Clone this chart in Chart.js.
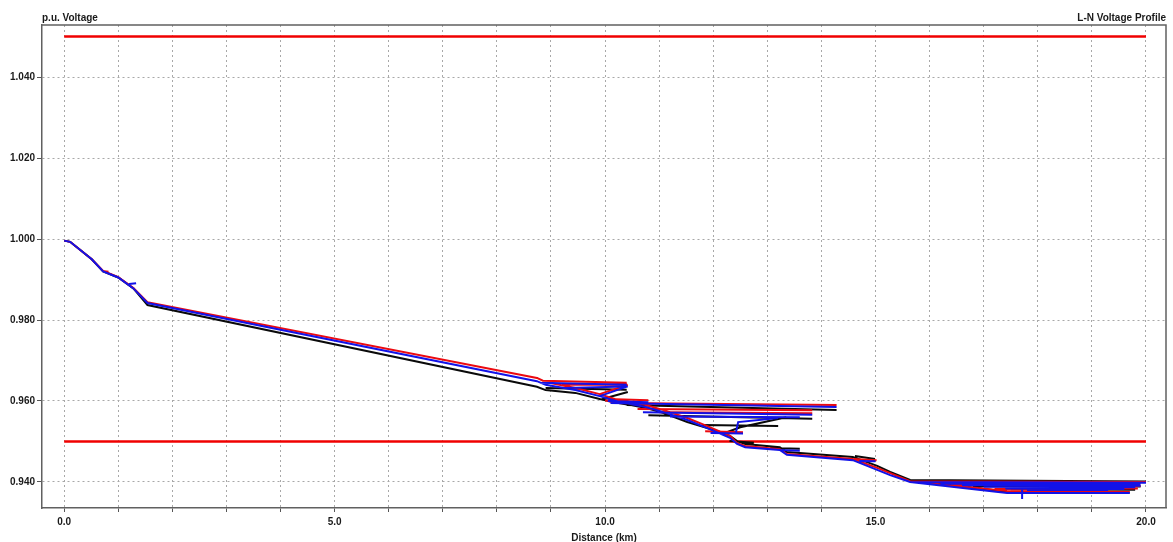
<!DOCTYPE html>
<html>
<head>
<meta charset="utf-8">
<script src="https://cdn.jsdelivr.net/npm/chart.js@4/dist/chart.umd.min.js"></script>
<style>
  html, body { margin: 0; padding: 0; background: #fff; }
  #wrap { width: 1173px; height: 542px; position: relative; }
</style>
</head>
<body>
<div id="wrap"><canvas id="profile"></canvas></div>
<script>
// distance along the feeder (km) for the main trunk
const trunkKm = [0, 0.11, 0.51, 0.72, 1.0, 1.28, 1.54, 8.74, 8.9, 9.45, 9.9, 10.25, 10.75, 11.02, 11.52, 11.89, 12.31, 12.44, 12.59, 13.23, 13.36, 14.58, 15.03, 15.27, 15.64, 17.43, 19.7];
// p.u. voltage per phase on the trunk
const trunkRed = [0.9996, 0.9993, 0.9950, 0.9921, 0.9906, 0.9879, 0.9844, 0.9657, 0.9647, 0.9632, 0.9617, 0.9602, 0.9590, 0.9580, 0.9558, 0.9538, 0.9514, 0.9496, 0.9489, 0.9481, 0.9469, 0.9457, 0.9435, 0.9422, 0.9402, 0.9378, 0.9375];
const trunkBlue = [0.9996, 0.9993, 0.9950, 0.9920, 0.9905, 0.9878, 0.9842, 0.9649, 0.9640, 0.9627, 0.9612, 0.9598, 0.9585, 0.9575, 0.9553, 0.9533, 0.9509, 0.9494, 0.9486, 0.9479, 0.9467, 0.9454, 0.9430, 0.9417, 0.9400, 0.9373, 0.9373];
const trunkBlack = [0.9996, 0.9993, 0.9950, 0.9920, 0.9905, 0.9878, 0.9837, 0.9635, 0.9627, 0.9620, 0.9605, 0.9595, 0.9583, 0.9573, 0.9548, 0.9533, 0.9514, 0.9501, 0.9494, 0.9486, 0.9474, 0.9462, 0.9440, 0.9425, 0.9405, 0.9376, 0.9374];

// laterals, each one a list of [km, p.u.] points
const lateralsRed = [
  [[0.70, 0.9921], [0.82, 0.9919]],
  [[8.74, 0.9657], [8.85, 0.9650], [10.4, 0.9645]],
  [[9.2, 0.9640], [10.4, 0.9641]],
  [[9.9, 0.9617], [10.42, 0.9640]],
  [[10.05, 0.9605], [10.8, 0.9602]],
  [[10.0, 0.9602], [10.2, 0.9595], [14.28, 0.9590]],
  [[10.6, 0.9580], [13.83, 0.9577]],
  [[11.0, 0.9572], [13.83, 0.9570]],
  [[11.85, 0.9525], [12.55, 0.9523]],
  [[14.6, 0.9457], [15.02, 0.9454]],
  [[15.64, 0.9402], [20.0, 0.9400]],
  [[16.4, 0.9393], [19.9, 0.9390]],
  [[17.2, 0.9383], [19.85, 0.9384]]
];
const lateralsBlue = [
  [[1.2, 0.9889], [1.33, 0.9891]],
  [[8.8, 0.9645], [10.4, 0.9640]],
  [[9.25, 0.9632], [10.4, 0.9636]],
  [[9.9, 0.9612], [10.42, 0.9636]],
  [[10.05, 0.9600], [10.8, 0.9597]],
  [[10.1, 0.9595], [14.28, 0.9585]],
  [[10.7, 0.9572], [13.83, 0.9566]],
  [[11.2, 0.9562], [13.6, 0.9560]],
  [[12.42, 0.9523], [12.46, 0.9548], [13.2, 0.9558]],
  [[11.95, 0.9521], [12.55, 0.9520]],
  [[13.23, 0.9479], [13.6, 0.9477]],
  [[14.7, 0.9452], [15.0, 0.9451]],
  [[15.64, 0.9400], [20.0, 0.9398]],
  [[16.2, 0.9396], [19.9, 0.9394]],
  [[16.6, 0.9392], [19.9, 0.9391]],
  [[17.0, 0.9388], [19.8, 0.9387]],
  [[17.4, 0.9384], [19.6, 0.9383]],
  [[17.8, 0.9380], [19.3, 0.9380]],
  [[17.71, 0.9383], [17.71, 0.9358]]
];
const lateralsBlack = [
  [[8.9, 0.9632], [10.4, 0.9628]],
  [[9.95, 0.9605], [10.42, 0.9622]],
  [[10.4, 0.9590], [14.28, 0.9578]],
  [[10.8, 0.9565], [13.83, 0.9556]],
  [[11.8, 0.9541], [13.2, 0.9538]],
  [[12.25, 0.9523], [12.5, 0.9535], [13.35, 0.9560]],
  [[12.3, 0.9501], [12.75, 0.9497]],
  [[13.05, 0.9484], [13.6, 0.9482]],
  [[14.62, 0.9464], [14.99, 0.9457]],
  [[15.64, 0.9405], [20.0, 0.9401]],
  [[16.8, 0.9390], [19.9, 0.9389]],
  [[17.5, 0.9382], [19.8, 0.9381]]
];

// voltage limits
const limitKm = [0, 20];
const upperLimit = 1.05;
const lowerLimit = 0.95;

// axis ticks
const xTicks = [0, 1, 2, 3, 4, 5, 6, 7, 8, 9, 10, 11, 12, 13, 14, 15, 16, 17, 18, 19, 20];
const yTicks = [0.94, 0.96, 0.98, 1.00, 1.02, 1.04];

function phaseData(trunkV, laterals) {
  const pts = trunkKm.map((x, i) => ({ x: x, y: trunkV[i] }));
  laterals.forEach(function (line) {
    pts.push({ x: line[0][0], y: null }); // break between branches
    line.forEach(p => pts.push({ x: p[0], y: p[1] }));
  });
  return pts;
}

function limitData(v) {
  return limitKm.map(x => ({ x: x, y: v }));
}

const RED = 'rgb(236, 10, 16)';
const BLUE = 'rgb(18, 18, 232)';
const BLACK = 'rgb(10, 10, 10)';

Chart.defaults.font.family = '"Liberation Sans", Arial, sans-serif';
Chart.defaults.font.size = 10;
Chart.defaults.font.weight = 'bold';
Chart.defaults.color = '#1a1a1a';

// frame on top/right and the three captions
const decorations = {
  id: 'decorations',
  afterDraw(chart) {
    const ctx = chart.ctx;
    const a = chart.chartArea;
    ctx.save();
    ctx.strokeStyle = '#606060';
    ctx.lineWidth = 1.5;
    ctx.beginPath();
    ctx.moveTo(a.left, a.top);
    ctx.lineTo(a.right, a.top);
    ctx.lineTo(a.right, a.bottom);
    ctx.stroke();

    ctx.fillStyle = '#1a1a1a';
    ctx.font = 'bold 10px "Liberation Sans", Arial, sans-serif';
    ctx.textBaseline = 'alphabetic';
    ctx.textAlign = 'left';
    ctx.fillText('p.u. Voltage', a.left, 21);
    ctx.textAlign = 'right';
    ctx.fillText('L-N Voltage Profile', a.right, 21);
    ctx.textAlign = 'center';
    ctx.fillText('Distance (km)', (a.left + a.right) / 2, 541);
    ctx.restore();
  }
};

const lineStyle = { pointRadius: 0, borderWidth: 2, tension: 0, spanGaps: false, fill: false };

new Chart(document.getElementById('profile'), {
  type: 'line',
  data: {
    datasets: [
      Object.assign({ label: 'Phase C', data: phaseData(trunkBlue, lateralsBlue), borderColor: BLUE, order: 1 }, lineStyle),
      Object.assign({ label: 'Phase A', data: phaseData(trunkRed, lateralsRed), borderColor: RED, order: 2 }, lineStyle),
      Object.assign({ label: 'Phase B', data: phaseData(trunkBlack, lateralsBlack), borderColor: BLACK, order: 3 }, lineStyle),
      Object.assign({ label: 'Upper limit', data: limitData(upperLimit), borderColor: 'rgb(240, 0, 0)', order: 4 }, lineStyle, { borderWidth: 2.5 }),
      Object.assign({ label: 'Lower limit', data: limitData(lowerLimit), borderColor: 'rgb(240, 0, 0)', order: 4 }, lineStyle, { borderWidth: 2.5 })
    ]
  },
  options: {
    responsive: true,
    maintainAspectRatio: false,
    animation: false,
    layout: { padding: { top: 25, right: 7, left: 0, bottom: 0 } },
    plugins: {
      legend: { display: false },
      title: { display: false },
      tooltip: { enabled: false }
    },
    scales: {
      x: {
        type: 'linear',
        min: -0.41,
        max: 20.37,
        afterFit(scale) { scale.height = 34; },
        afterBuildTicks(scale) { scale.ticks = xTicks.map(v => ({ value: v })); },
        ticks: {
          autoSkip: false,
          maxRotation: 0,
          padding: 4,
          color: '#1a1a1a',
          callback: v => (v % 5 === 0 ? v.toFixed(1) : '')
        },
        grid: {
          color: '#a8a8a8',
          lineWidth: 1,
          tickColor: '#555',
          tickLength: 4,
          tickBorderDash: []
        },
        border: { color: '#606060', width: 1.5, dash: [2, 3] }
      },
      y: {
        type: 'linear',
        min: 0.93358,
        max: 1.05284,
        afterFit(scale) { scale.width = 42; },
        afterBuildTicks(scale) { scale.ticks = yTicks.map(v => ({ value: v })); },
        ticks: {
          padding: 2,
          color: '#1a1a1a',
          callback: v => v.toFixed(3)
        },
        grid: {
          color: '#a8a8a8',
          lineWidth: 1,
          tickColor: '#555',
          tickLength: 5,
          tickBorderDash: []
        },
        border: { color: '#606060', width: 1.5, dash: [2, 3] }
      }
    }
  },
  plugins: [decorations]
});
</script>
</body>
</html>
